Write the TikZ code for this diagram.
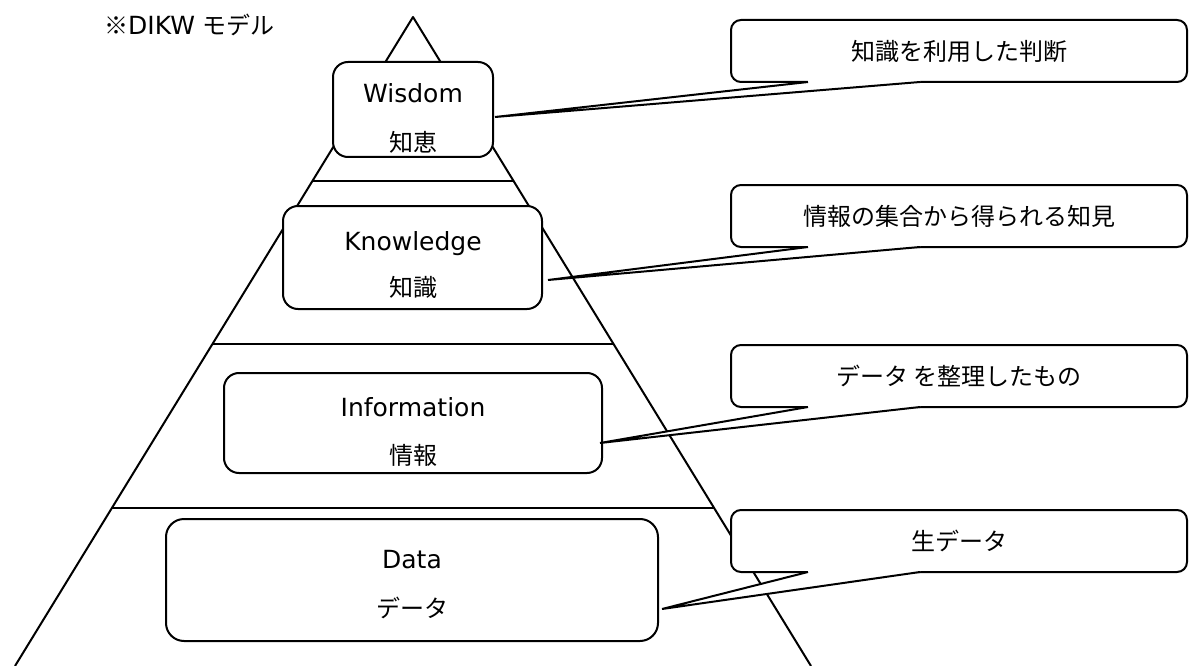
\documentclass[tikz,border=0pt]{standalone}
\usepackage{fontspec}
\setmainfont{DejaVu Sans}
\newfontfamily\jp{Noto Sans CJK JP}
\usetikzlibrary{calc}
\begin{document}
\begin{tikzpicture}[x=1pt,y=-1pt,
  edge/.style={line width=2pt, line join=round},
  level/.style={draw, line width=2pt, rounded corners=15pt, fill=white, inner sep=0pt, outer sep=0pt},
  callbox/.style={draw, line width=2pt, rounded corners=10pt, fill=white, inner sep=0pt, outer sep=0pt,
     minimum width=456pt, minimum height=62pt, font=\jp\fontsize{24pt}{28pt}\selectfont},
  lat/.style={font=\fontsize{25pt}{30pt}\selectfont, inner sep=0pt, anchor=base},
  jpt/.style={font=\jp\fontsize{24pt}{28pt}\selectfont, inner sep=0pt},
  tail/.style={line width=2pt, line join=miter}
]
\useasboundingbox (0,0) rectangle (1189,666);

% pyramid
\coordinate (apex) at (413,17);
\coordinate (bl) at (15,666);
\coordinate (br) at (811,666);
\draw[edge] (bl) -- (apex) -- (br);
\coordinate (l1) at ($(apex)!0.2527!(bl)$);
\coordinate (r1) at ($(apex)!0.2527!(br)$);
\coordinate (l2) at ($(apex)!0.5039!(bl)$);
\coordinate (r2) at ($(apex)!0.5039!(br)$);
\coordinate (l3) at ($(apex)!0.7565!(bl)$);
\coordinate (r3) at ($(apex)!0.7565!(br)$);
\draw[edge] (l1) -- (r1);
\draw[edge] (l2) -- (r2);
\draw[edge] (l3) -- (r3);

% title
\node[anchor=west, inner sep=0pt] (title) at (104,25) {{\jp\fontsize{24pt}{28pt}\selectfont ※}{\fontsize{25pt}{30pt}\selectfont DIKW }{\jp\fontsize{24pt}{28pt}\selectfont モデル}};

% level boxes
\node[level, minimum width=160pt, minimum height=95pt] (wisdom) at (413,109.5) {};
\node[level, minimum width=259pt, minimum height=103pt] (knowledge) at (412.5,257.5) {};
\node[level, minimum width=378pt, minimum height=100pt] (information) at (413,423) {};
\node[level, minimum width=492pt, minimum height=122pt, rounded corners=18pt] (data) at (412,580) {};

\node[lat] (wisdomEn) at (413,103) {Wisdom};
\node[jpt] (wisdomJp) at (413,142.5) {知恵};
\node[lat] (knowledgeEn) at (413,250) {Knowledge};
\node[jpt] (knowledgeJp) at (413,287) {知識};
\node[lat] (informationEn) at (413,416) {Information};
\node[jpt] (informationJp) at (413,455) {情報};
\node[lat] (dataEn) at (412,568) {Data};
\node[jpt] (dataJp) at (412,608) {データ};

% callouts
\node[callbox] (c1) at (959,51) {知識を利用した判断};
\node[callbox] (c2) at (959,216) {情報の集合から得られる知見};
\node[callbox] (c3) at (959,376) {データ を整理したもの};
\node[callbox] (c4) at (959,541) {生データ};

\coordinate (t1) at (495,117);
\coordinate (t2) at (548,280);
\coordinate (t3) at (600,443);
\coordinate (t4) at (662,609);

\foreach \c/\t in {c1/t1, c2/t2, c3/t3, c4/t4}{
  \fill[white] ($(\c.south west)+(77,0)$) -- (\t) -- ($(\c.south west)+(189,0)$)
     -- ($(\c.south west)+(189,-3)$) -- ($(\c.south west)+(77,-3)$) -- cycle;
  \draw[tail] ($(\c.south west)+(77,0)$) -- (\t) -- ($(\c.south west)+(189,0)$);
}
\end{tikzpicture}
\end{document}
